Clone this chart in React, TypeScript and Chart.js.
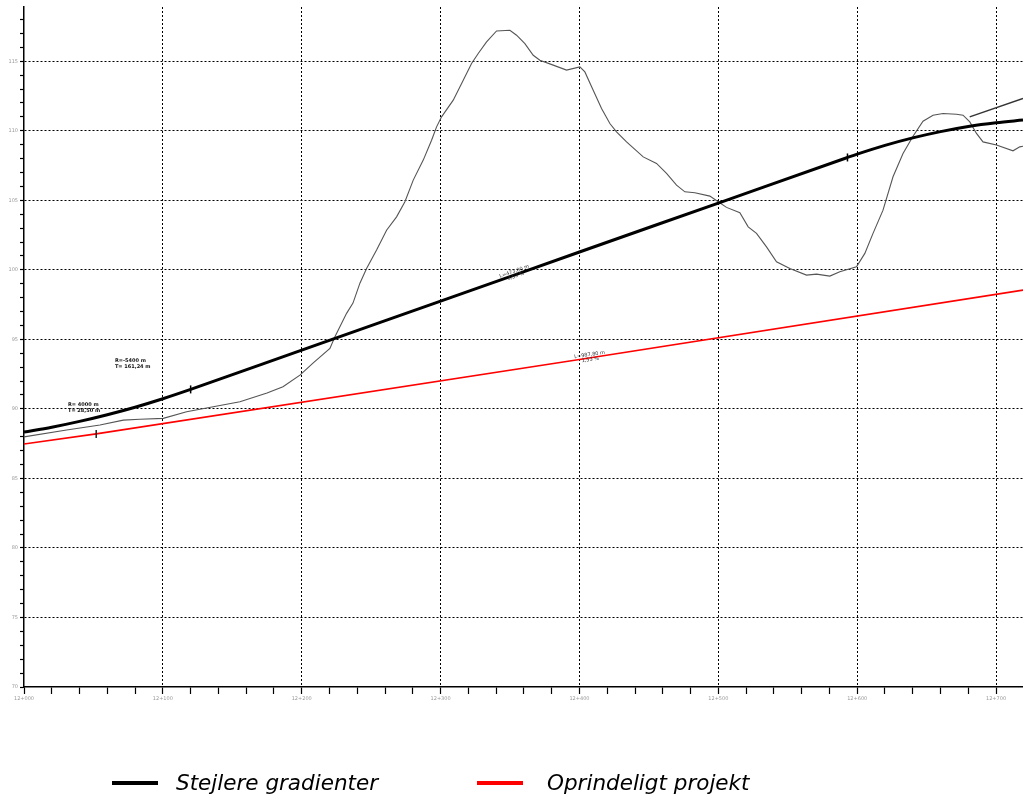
import React, { useEffect, useRef } from "react";
import { Chart, registerables } from "chart.js";

Chart.register(...registerables);

// Terrain profile (chainage m from 12+000, elevation m)
const terrainChainage = [
  0, 30.7, 54.7, 71.5, 83.5, 100.3, 117.1, 136.3, 155.5, 175, 186.5, 198.7, 208.1, 220.3, 223.9, 232.3,
  236.9, 241.9, 246.7, 253.9, 261.1, 268.3, 274.3, 280.3, 287.5, 293.5, 297.1, 300.7, 309.1, 316.3,
  322.3, 327.1, 333.1, 340.3, 349.9, 354.7, 360.7, 366.7, 371.5, 381.1, 390.7, 400.3, 403.9, 409.9,
  415.9, 421.9, 426.7, 433.9, 445.9, 455.5, 462.7, 469.9, 475.9, 483.1, 493.9, 499.9, 505.9, 515.5,
  521.5, 527.5, 534.7, 541.9, 551.5, 563.5, 570.7, 580.3, 587.5, 599.5, 605.5, 611.4, 618.6, 625.8,
  633.0, 640.2, 647.4, 654.6, 661.8, 671.5, 676.2, 681.1, 685.9, 690.6, 700.3, 712.2, 717.1, 719.4,
];
const terrainElev = [
  87.99, 88.48, 88.84, 89.19, 89.25, 89.32, 89.79, 90.15, 90.51, 91.14, 91.59, 92.43, 93.29, 94.35, 95.18, 96.87,
  97.61, 99.04, 100.1, 101.42, 102.85, 103.81, 104.89, 106.45, 107.89, 109.32, 110.28, 111.0, 112.2, 113.64,
  114.84, 115.56, 116.39, 117.18, 117.23, 116.87, 116.27, 115.43, 115.07, 114.72, 114.36, 114.59, 114.23, 112.92,
  111.6, 110.52, 109.92, 109.2, 108.12, 107.65, 106.93, 106.09, 105.61, 105.54, 105.3, 104.89, 104.49, 104.1,
  103.09, 102.62, 101.65, 100.58, 100.1, 99.62, 99.69, 99.55, 99.86, 100.22, 101.18, 102.62, 104.29, 106.69,
  108.37, 109.61, 110.69, 111.12, 111.24, 111.19, 111.12, 110.64, 109.81, 109.2, 108.97, 108.56, 108.84, 108.89,
];

// "Stejlere gradienter" road profile
const steepChainage = [0, 20, 40, 60, 80, 100, 120, 200, 300, 400, 500, 593, 600, 620, 640, 660, 680, 700, 719.4];
const steepElev = [88.33, 88.68, 89.1, 89.58, 90.12, 90.73, 91.4, 94.23, 97.75, 101.28, 104.8, 108.08, 108.32, 108.95, 109.49, 109.94, 110.31, 110.58, 110.77];

// Tangent continuation at the top right
const tangentChainage = [681, 719.4];
const tangentElev = [111.0, 112.32];

// "Oprindeligt projekt" road profile
const originalChainage = [0, 52, 400, 719.4];
const originalElev = [87.47, 88.2, 93.55, 98.54];

// Vertical curve tangent points
const steepMarkChainage = [120, 593];
const steepMarkElev = [91.4, 108.08];
const originalMarkChainage = [52];
const originalMarkElev = [88.2];

// Axis settings / labels
const xMin = 0;
const xMax = 719.4;
const yMin = 70;
const yMax = 118.9;
const stationPrefix = "12+";

const legendLabels = ["Stejlere gradienter", "Oprindeligt projekt"];

// Small annotations: [chainage, elevation, rotationDeg, line1, line2]
const annotations: [number, number, number, string, string][] = [
  [65.5, 93.5, 0, "R=-5400 m", "T= 161,24 m"],
  [31.7, 90.3, 0, "R= 4000 m", "T= 28,50 m"],
];
const gradeLabels: [number, number, number, string, string][] = [
  [353.5, 99.75, -19.4, "L=473,00 m", "3,53 %"],
  [407.5, 93.75, -8.6, "L=987,80 m", "1,53 %"],
];

const zip = (xs: number[], ys: number[]) => xs.map((x, i) => ({ x, y: ys[i] }));

const annotationPlugin = {
  id: "profileAnnotations",
  afterDatasetsDraw(chart: any) {
    const { ctx, scales } = chart;
    const sx = scales.x;
    const sy = scales.y;
    ctx.save();
    ctx.fillStyle = "#111";
    ctx.font = "bold 5px 'DejaVu Sans'";
    ctx.textAlign = "left";
    ctx.textBaseline = "middle";
    annotations.forEach(([m, e, , l1, l2]) => {
      const px = sx.getPixelForValue(m);
      const py = sy.getPixelForValue(e);
      ctx.fillText(l1, px, py);
      ctx.fillText(l2, px, py + 6);
    });
    ctx.font = "5px 'DejaVu Sans'";
    ctx.textAlign = "center";
    gradeLabels.forEach(([m, e, rot, l1, l2]) => {
      const px = sx.getPixelForValue(m);
      const py = sy.getPixelForValue(e);
      ctx.save();
      ctx.translate(px, py);
      ctx.rotate((rot * Math.PI) / 180);
      ctx.fillStyle = "#333";
      ctx.fillText(l1, 0, -2);
      ctx.fillText(l2, 0, 3);
      ctx.restore();
    });
    ctx.restore();
  },
};

export default function App() {
  const canvasRef = useRef<HTMLCanvasElement | null>(null);

  useEffect(() => {
    if (!canvasRef.current) return;
    const transparent = "rgba(0,0,0,0)";
    const chart = new Chart(canvasRef.current, {
      type: "line",
      data: {
        datasets: [
          {
            label: "marks",
            data: zip(steepMarkChainage, steepMarkElev),
            showLine: false,
            pointStyle: "line",
            rotation: 90,
            pointRadius: 4,
            borderColor: "#000",
            pointBorderWidth: 1.5,
            order: 0,
          },
          {
            label: "marks-red",
            data: zip(originalMarkChainage, originalMarkElev),
            showLine: false,
            pointStyle: "line",
            rotation: 90,
            pointRadius: 4,
            borderColor: "#222",
            pointBorderWidth: 1.5,
            order: 0,
          },
          {
            label: legendLabels[0],
            data: zip(steepChainage, steepElev),
            borderColor: "#000",
            borderWidth: 3,
            pointRadius: 0,
            cubicInterpolationMode: "monotone",
            order: 1,
          },
          {
            label: "tangent",
            data: zip(tangentChainage, tangentElev),
            borderColor: "#333",
            borderWidth: 1.5,
            pointRadius: 0,
            order: 2,
          },
          {
            label: legendLabels[1],
            data: zip(originalChainage, originalElev),
            borderColor: "#ff0000",
            borderWidth: 1.6,
            pointRadius: 0,
            order: 3,
          },
          {
            label: "terrain",
            data: zip(terrainChainage, terrainElev),
            borderColor: "#555",
            borderWidth: 1.1,
            pointRadius: 0,
            order: 4,
          },
        ],
      },
      options: {
        responsive: false,
        animation: false,
        layout: { autoPadding: false, padding: { top: 7, right: 0, bottom: 87, left: 0 } },
        plugins: { legend: { display: false }, tooltip: { enabled: false } },
        scales: {
          x: {
            type: "linear",
            min: xMin,
            max: xMax,
            afterBuildTicks: (s: any) => {
              s.ticks = s.ticks.filter((t: any) => Math.abs(t.value % 20) < 1e-6);
            },
            afterFit: (s: any) => {
              s.height = 22;
              s.paddingLeft = 0;
              s.paddingRight = 0;
            },
            ticks: {
              stepSize: 20,
              autoSkip: false,
              maxRotation: 0,
              padding: 2,
              color: "#999",
              font: { size: 5, family: "'DejaVu Sans'" },
              callback: (v: any) => (Number(v) % 100 === 0 ? stationPrefix + String(Number(v)).padStart(3, "0") : ""),
            },
            grid: {
              color: (c: any) => (c.tick && c.tick.value % 100 === 0 && c.tick.value !== 0 ? "#000" : transparent),
              lineWidth: 1,
              tickColor: "#000",
              tickLength: 7,
              tickWidth: 1.2,
            },
            border: { display: true, color: "#000", width: 1.5, dash: [2, 2] },
          },
          y: {
            type: "linear",
            min: yMin,
            max: yMax,
            afterBuildTicks: (s: any) => {
              s.ticks = s.ticks.filter((t: any) => Number.isInteger(Math.round(t.value * 1000) / 1000));
            },
            afterFit: (s: any) => {
              s.width = 24;
              s.paddingTop = 0;
              s.paddingBottom = 0;
            },
            ticks: {
              stepSize: 1,
              autoSkip: false,
              padding: 2,
              color: "#999",
              font: { size: 5, family: "'DejaVu Sans'" },
              callback: (v: any) => (Number(v) % 5 === 0 ? String(v) : ""),
            },
            grid: {
              color: (c: any) => (c.tick && c.tick.value % 5 === 0 && c.tick.value !== 70 ? "#000" : transparent),
              lineWidth: 1,
              tickColor: "#000",
              tickLength: 4,
              tickWidth: 1.2,
            },
            border: { display: true, color: "#000", width: 1.5, dash: [2, 2] },
          },
        },
      },
      plugins: [annotationPlugin],
    } as any);
    return () => chart.destroy();
  }, []);

  const textStyle: React.CSSProperties = {
    position: "absolute",
    top: 770,
    fontFamily: "'DejaVu Sans', Verdana, sans-serif",
    fontStyle: "italic",
    fontSize: 21.5,
    lineHeight: "26px",
    color: "#000",
    whiteSpace: "nowrap",
  };

  return (
    <div style={{ position: "absolute", left: 0, top: 0, width: 1023, height: 796, background: "#fff" }}>
      <canvas ref={canvasRef} width={1023} height={796} style={{ display: "block" }} />
      <div style={{ position: "absolute", left: 112, top: 781, width: 46, height: 4, background: "#000" }} />
      <div style={{ ...textStyle, left: 176 }}>{legendLabels[0]}</div>
      <div style={{ position: "absolute", left: 477, top: 781, width: 46, height: 4, background: "#ff0000" }} />
      <div style={{ ...textStyle, left: 547 }}>{legendLabels[1]}</div>
    </div>
  );
}
